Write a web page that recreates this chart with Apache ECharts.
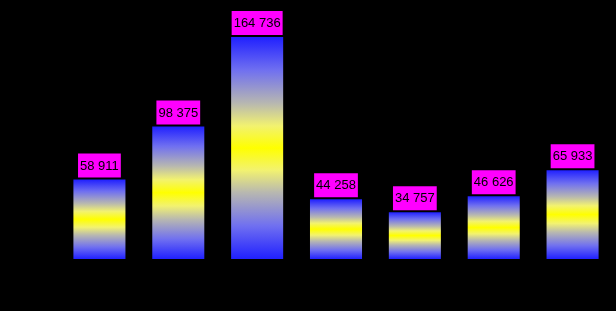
<!DOCTYPE html>
<html>
<head>
<meta charset="utf-8">
<script src="https://cdn.jsdelivr.net/npm/echarts@6/dist/echarts.min.js"></script>
<style>
  html, body { margin: 0; padding: 0; background: #000; }
  #chart { width: 616px; height: 311px; }
</style>
</head>
<body>
<div id="chart"></div>
<script>
const categories = ['A', 'B', 'C', 'D', 'E', 'F', 'G'];
const values = [58911, 98375, 164736, 44258, 34757, 46626, 65933];

function fmt(v) {
  return String(v).replace(/\B(?=(\d{3})+(?!\d))/g, ' ');
}

const chart = echarts.init(document.getElementById('chart'));
const option = {
  backgroundColor: '#000',
  animation: false,
  grid: { left: 60, right: 4, top: 37, bottom: 52 },
  xAxis: {
    type: 'category',
    data: categories,
    show: false
  },
  yAxis: {
    type: 'value',
    min: 0,
    max: 164736,
    show: false
  },
  series: [{
    type: 'bar',
    data: values,
    barCategoryGap: '34%',
    itemStyle: {
      // blue -> lavender -> yellow -> lavender -> blue
      color: new echarts.graphic.LinearGradient(0, 0, 0, 1, [
        { offset: 0, color: '#2020ff' },
        { offset: 0.15, color: '#7070f0' },
        { offset: 0.3, color: '#b8b8b0' },
        { offset: 0.4, color: '#f2f270' },
        { offset: 0.5, color: '#ffff00' },
        { offset: 0.6, color: '#f2f270' },
        { offset: 0.7, color: '#b8b8b0' },
        { offset: 0.85, color: '#7070f0' },
        { offset: 1, color: '#2020ff' }
      ])
    },
    label: {
      show: true,
      position: 'top',
      distance: 2,
      formatter: p => fmt(p.value),
      color: '#000',
      fontFamily: 'Liberation Sans',
      fontSize: 13,
      backgroundColor: '#ff00ff',
      padding: [6, 2, 5, 2]
    }
  }]
};
chart.setOption(option);
</script>
</body>
</html>
